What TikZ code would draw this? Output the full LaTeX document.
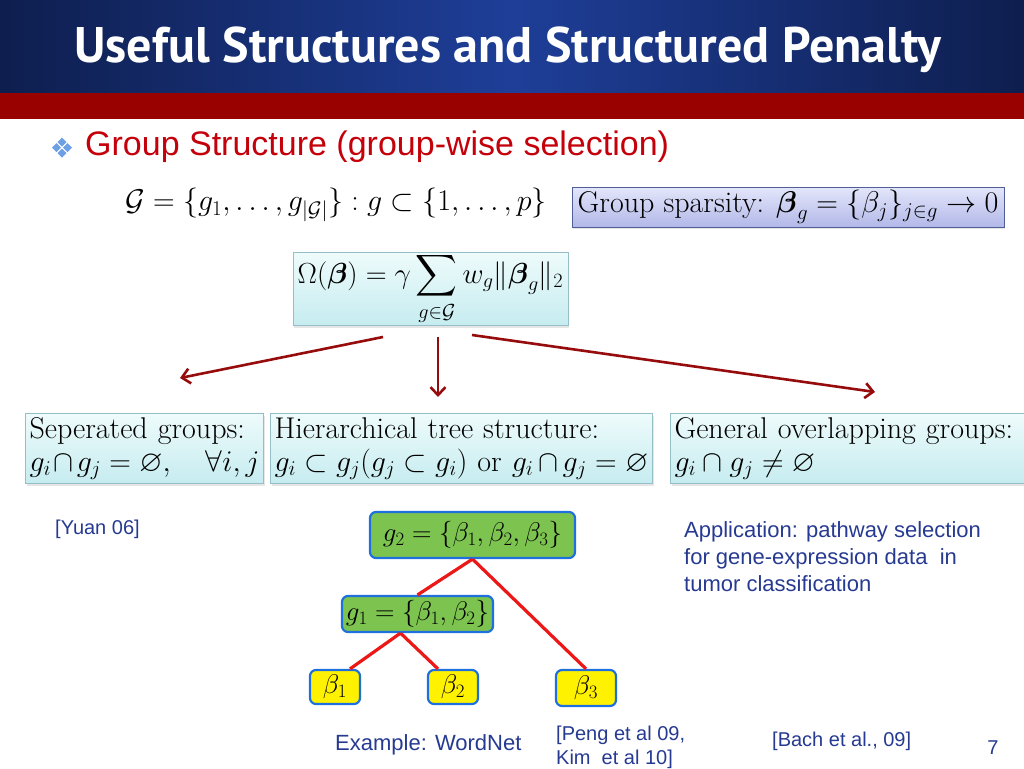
\RequirePackage{fix-cm}
\documentclass[tikz,border=0pt]{standalone}
\usepackage{amsmath}
\usepackage{amssymb}
\usepackage{fontspec}
\newfontfamily\arialfont{Liberation Sans}
\newfontfamily\titlefont{PT Sans}
\usetikzlibrary{positioning,arrows.meta,shadows}
\definecolor{navy}{RGB}{14,30,78}
\definecolor{titleblue}{RGB}{30,62,152}
\definecolor{slidered}{RGB}{153,0,0}
\definecolor{headred}{RGB}{196,0,10}
\definecolor{bulletblue}{RGB}{110,160,230}
\definecolor{textblue}{RGB}{38,58,145}
\definecolor{arrowred}{RGB}{150,12,12}
\definecolor{treered}{RGB}{236,24,24}
\definecolor{nodeblue}{RGB}{30,112,222}
\definecolor{groupgreen}{RGB}{125,195,80}
\definecolor{cyantop}{RGB}{238,251,251}
\definecolor{cyanbot}{RGB}{198,236,240}
\definecolor{cyanline}{RGB}{150,190,200}
\definecolor{lavtop}{RGB}{228,230,250}
\definecolor{lavbot}{RGB}{178,184,232}
\definecolor{lavline}{RGB}{80,95,150}
\tikzset{mathbox/.style={draw=cyanline,line width=1pt,top color=cyantop,bottom color=cyanbot,
		inner sep=1pt,drop shadow={opacity=0.2,shadow xshift=1pt,shadow yshift=-2pt}},
	casebox/.style={mathbox,align=left,anchor=north west,minimum height=70pt,inner xsep=4pt,inner ysep=3pt,
		font=\fontsize{30}{33}\selectfont},
	groupnode/.style={draw=nodeblue,line width=2.2pt,rounded corners=6pt,fill=groupgreen,inner sep=0pt,
		font=\fontsize{27}{30}\selectfont},
	leafnode/.style={groupnode,fill=yellow},
	branch/.style={draw=arrowred,line width=2.6pt,-{Straight Barb[length=8pt,width=15pt]}},
	treeline/.style={draw=treered,line width=3.2pt},
	bluetext/.style={font=\arialfont\fontsize{20}{24}\selectfont,text=textblue,align=left,inner sep=0pt}}

\begin{document}
\begin{tikzpicture}[x=1pt,y=-1pt]
	\useasboundingbox (0,0) rectangle (1024,768);
	% header
	\fill[left color=navy,right color=navy,middle color=titleblue] (0,0) rectangle (1024,93);
	\fill[slidered] (0,93) rectangle (1024,119);
	\node[text=white,font=\titlefont\bfseries\fontsize{50}{54}\selectfont] (title) at (508,50) {Useful Structures and Structured Penalty};
	
	\foreach \cx/\cy in {62/142,62/153,56.5/147.5,67.5/147.5}
	\fill[bulletblue] (\cx,\cy-4.5) -- (\cx+4.5,\cy) -- (\cx,\cy+4.5) -- (\cx-4.5,\cy) -- cycle;
	\node[anchor=west,inner sep=0pt,text=headred,font=\arialfont\fontsize{34}{38}\selectfont] (head) at (85,147) {Group Structure (group-wise selection)};
	
	\node[anchor=west,inner sep=0pt,font=\fontsize{30}{34}\selectfont] (groups) at (125,205) {$\mathcal{G}=\{g_1,\dots,g_{|\mathcal{G}|}\}:g\subset\{1,\dots,p\}$};
	\node[draw=lavline,line width=1pt,top color=lavtop,bottom color=lavbot,inner sep=1pt,minimum width=432pt,minimum height=40pt,
		drop shadow={opacity=0.2,shadow xshift=1pt,shadow yshift=-2pt},font=\fontsize{30}{34}\selectfont] (sparse) at (788,207)
		{Group sparsity: $\boldsymbol{\beta}_g=\{\beta_j\}_{j\in g}\to 0$};
	
	\node[mathbox,minimum width=275pt,minimum height=70pt,font=\fontsize{29}{34}\selectfont] (omega) at (430.5,289)
		{$\displaystyle\Omega(\boldsymbol{\beta})=\gamma\sum_{g\in\mathcal{G}}w_g\|\boldsymbol{\beta}_g\|_2$};
	
	\node[casebox,minimum width=238pt,text width=230pt] (sep) at (25,413)
		{Seperated groups:\\$g_i\cap g_j=\varnothing,\quad\forall i,j$};
	\node[casebox,minimum width=382pt,text width=374pt] (hier) at (270,413)
		{Hierarchical tree structure:\\$g_i\subset g_j(g_j\subset g_i)$ or $g_i\cap g_j=\varnothing$};
	\node[casebox,minimum width=370pt,text width=362pt] (over) at (670,413)
		{General overlapping groups:\\$g_i\cap g_j\neq\varnothing$};
	
	\coordinate (oL) at (383,337);
	\coordinate (oM) at (438,337);
	\coordinate (oR) at (472,335);
	\coordinate (sepT) at (180,378);
	\coordinate (hierT) at (438,397);
	\coordinate (overT) at (875,392);
	\draw[branch] (oL) -- (sepT);
	\draw[branch] (oM) -- (hierT);
	\draw[branch] (oR) -- (overT);
	
	% tree
	\node[groupnode,minimum width=205pt,minimum height=46pt] (g2) at (472.5,535) {$g_2=\{\beta_1,\beta_2,\beta_3\}$};
	\node[groupnode,minimum width=151pt,minimum height=36pt] (g1) at (417.5,614) {$g_1=\{\beta_1,\beta_2\}$};
	\node[leafnode,minimum width=50pt,minimum height=34pt] (b1) at (335,687) {$\beta_1$};
	\node[leafnode,minimum width=50pt,minimum height=34pt] (b2) at (453,687) {$\beta_2$};
	\node[leafnode,minimum width=60pt,minimum height=36pt] (b3) at (586,688) {$\beta_3$};
	\draw[treeline] (g2.south) -- (g1.north);
	\draw[treeline] (g2.south) -- (b3.north);
	\draw[treeline] ([xshift=-17pt]g1.south) -- ([xshift=15pt]b1.north);
	\draw[treeline] ([xshift=-17pt]g1.south) -- ([xshift=-15pt]b2.north);
	
	\node[bluetext,anchor=west] (yuan) at (55,529) {[Yuan 06]};
	\node[bluetext,anchor=west,font=\arialfont\fontsize{22}{26}\selectfont] (wordnet) at (335,745) {Example: WordNet};
	\node[bluetext,anchor=west] (peng) at (556,747) {[Peng et al 09,\\Kim\ \ et al 10]};
	\node[bluetext,anchor=north west,font=\arialfont\fontsize{22}{27}\selectfont] (appl) at (684,521) {Application: pathway selection\\for gene-expression data\ \ in\\tumor classification};
	\node[bluetext,anchor=west] (bach) at (772,741) {[Bach et al., 09]};
	\node[bluetext] (page) at (993,748) {7};
\end{tikzpicture}
\end{document}
